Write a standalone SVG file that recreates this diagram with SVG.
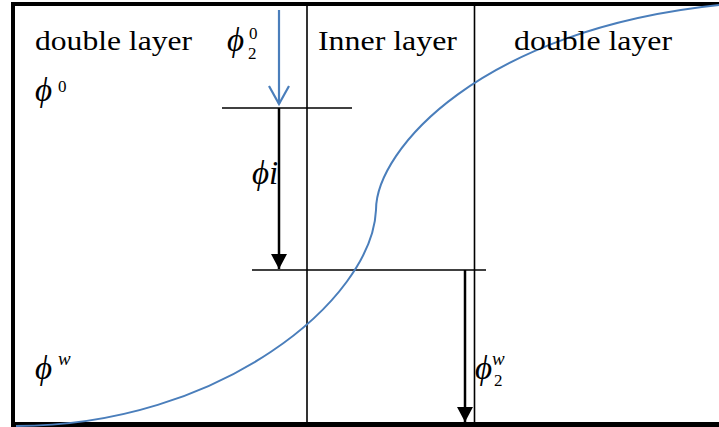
<svg xmlns="http://www.w3.org/2000/svg" width="719" height="427" viewBox="0 0 719 427">
<style>
.lbl{font-family:"Liberation Serif","Times New Roman",serif;font-size:28px;fill:#000}
.sym{font-family:"Liberation Serif","Times New Roman",serif;font-style:italic;font-size:33px;fill:#000}
.sm{font-family:"Liberation Serif","Times New Roman",serif;font-size:17px;fill:#000}
.smi{font-family:"Liberation Serif","Times New Roman",serif;font-style:italic;font-size:19px;fill:#000}
.thin{stroke:#000;stroke-width:1.6;fill:none}
.frame{stroke:#000;fill:none}
.conn{stroke:#000;stroke-width:2.5;fill:none}
</style>
<defs>
<marker id="fill" markerUnits="userSpaceOnUse" markerWidth="18" markerHeight="16" refX="15" refY="8" orient="auto">
<path d="M0,0 L15,8 L0,16 Z" fill="#000"/>
</marker>
<marker id="open" markerUnits="userSpaceOnUse" markerWidth="22" markerHeight="24" refX="19" refY="11" orient="auto">
<path d="M1,1 L19,11 L1,21" fill="none" stroke="#4A7EBB" stroke-width="2.2"/>
</marker>
</defs>
<rect width="719" height="427" fill="#fff"/>
<g id="frame">
<line class="frame" x1="13" y1="2" x2="13" y2="427" stroke-width="4"/>
<line class="frame" x1="11" y1="4" x2="719" y2="4" stroke-width="4"/>
<line class="frame" x1="11" y1="424.5" x2="719" y2="424.5" stroke-width="5"/>
</g>
<g id="dividers">
<line class="thin" x1="307" y1="6" x2="307" y2="422"/>
<line class="thin" x1="474.5" y1="6" x2="474.5" y2="422"/>
<line class="thin" x1="222" y1="108" x2="352" y2="108"/>
<line class="thin" x1="252" y1="270" x2="486" y2="270"/>
</g>
<g id="curve">
<path d="M16,426 C220,426 372,300 376,210 C376,150 480,30 719,5" fill="none" stroke="#4A7EBB" stroke-width="2"/>
</g>
<g id="connectors">
<line x1="279" y1="10" x2="279" y2="104" stroke="#4A7EBB" stroke-width="2.2" marker-end="url(#open)"/>
<line class="conn" x1="279" y1="108" x2="279" y2="269" marker-end="url(#fill)"/>
<line class="conn" x1="465" y1="270" x2="465" y2="422" marker-end="url(#fill)"/>
</g>
<g id="label-double-left"><text class="lbl" x="35" y="50" textLength="157" lengthAdjust="spacingAndGlyphs">double layer</text></g>
<g id="label-inner"><text class="lbl" x="318" y="50" textLength="139" lengthAdjust="spacingAndGlyphs">Inner layer</text></g>
<g id="label-double-right"><text class="lbl" x="514" y="50" textLength="158" lengthAdjust="spacingAndGlyphs">double layer</text></g>
<g id="phi0"><text class="sym" x="35" y="101">ϕ</text><text class="sm" x="58" y="92">0</text></g>
<g id="phi20"><text class="sym" x="227" y="51">ϕ</text><text class="sm" x="249" y="39">0</text><text class="sm" x="248" y="59">2</text></g>
<g id="phii"><text class="sym" x="252" y="184">ϕi</text></g>
<g id="phiw"><text class="sym" x="35" y="379">ϕ</text><text class="smi" x="58" y="365">w</text></g>
<g id="phi2w"><text class="sym" x="475" y="379">ϕ</text><text class="smi" x="492" y="365">w</text><text class="sm" x="494" y="386">2</text></g>
</svg>
